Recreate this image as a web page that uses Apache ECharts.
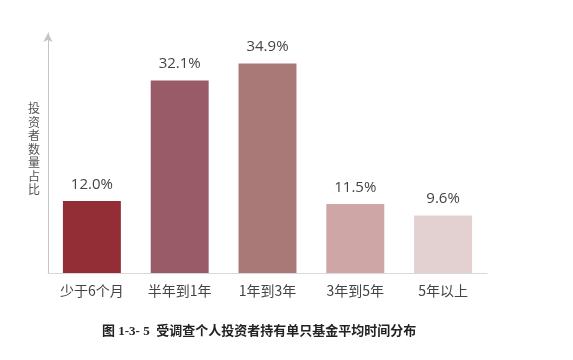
<!DOCTYPE html>
<html><head><meta charset="utf-8">
<script src="https://cdn.jsdelivr.net/npm/echarts@6/dist/echarts.min.js"></script>
<style>html,body{margin:0;padding:0;background:#fff}#c{width:573px;height:360px}</style>
</head><body><div id="c"></div>
<script>
var categories = ['少于6个月', '半年到1年', '1年到3年', '3年到5年', '5年以上'];
var values = [12.0, 32.1, 34.9, 11.5, 9.6];
var barColors = ['#932E36', '#985B67', '#A97977', '#CFA6A6', '#E3D1D2'];
var yAxisName = '投资者数量占比';
var caption = '图 1-3- 5  受调查个人投资者持有单只基金平均时间分布';

var chart = echarts.init(document.getElementById('c'), null, {renderer: 'canvas'});
chart.setOption({
  animation: false,
  backgroundColor: '#ffffff',
  grid: {left: 48, top: 33, width: 439, bottom: 87, containLabel: false},
  xAxis: {
    type: 'category', data: categories,
    axisLine: {show: true, lineStyle: {color: '#d9d9d9', width: 1}},
    axisTick: {show: false},
    axisLabel: {color: '#444', fontSize: 14, margin: 11, fontFamily: '"Noto Sans CJK SC", "Open Sans", sans-serif'}
  },
  yAxis: {
    type: 'value', min: 0, max: 40,
    axisLine: {show: true, symbol: ['none', 'arrow'], symbolSize: [7, 9], symbolOffset: [0, 0], lineStyle: {color: '#c4c4c4', width: 1}},
    axisTick: {show: false}, axisLabel: {show: false}, splitLine: {show: false}
  },
  series: [{
    type: 'bar', barWidth: '66%',
    data: values.map(function (v, i) { return {value: v, itemStyle: {color: barColors[i]}}; }),
    label: {show: true, position: 'top', distance: 9, color: '#444', fontSize: 15,
      fontFamily: '"Open Sans", sans-serif',
      formatter: function (p) { return p.value.toFixed(1) + '%'; }}
  }],
  graphic: [
    {type: 'text', left: 28, top: 102, style: {text: yAxisName.split('').join('\n'), fill: '#555', fontSize: 12, lineHeight: 13.5, fontFamily: '"Noto Sans CJK SC", sans-serif'}},
    {type: 'text', left: 102, top: 325, style: {text: caption, fill: '#222', fontSize: 13, fontWeight: 'bold', fontFamily: '"Liberation Serif", "Noto Sans CJK SC", serif'}}
  ]
});
</script></body></html>
